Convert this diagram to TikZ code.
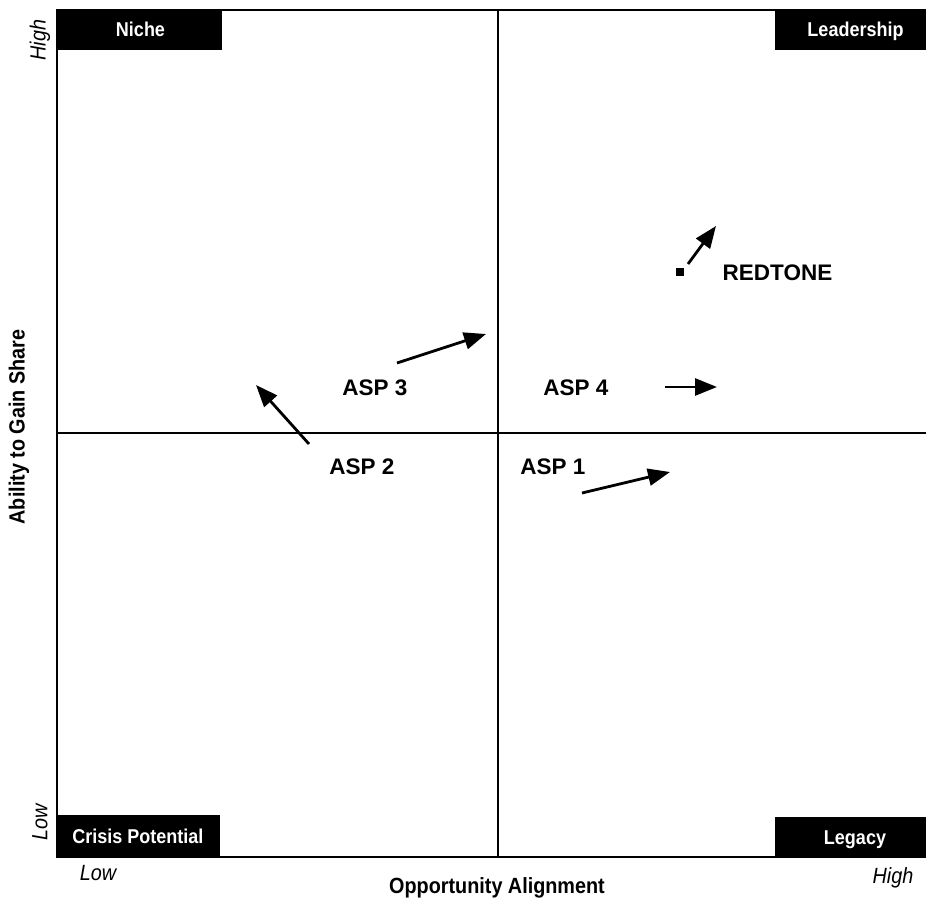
\documentclass[tikz,border=0pt]{standalone}
\usepackage{fontspec}
\setmainfont{Liberation Sans}
\newfontfamily\narrowfont[FakeStretch=0.9]{Liberation Sans}
\usetikzlibrary{arrows.meta}
\tikzset{
  quadbox/.style={fill=black, draw=black, inner sep=0pt, text=white,
    text height=14.5pt, text depth=0pt,
    font=\narrowfont\bfseries\fontsize{20}{22}\selectfont},
  asplabel/.style={font=\bfseries\fontsize{22.5}{25}\selectfont, inner sep=0pt},
  axislabel/.style={font=\narrowfont\bfseries\fontsize{22}{24}\selectfont, inner sep=0pt},
  endlabel/.style={font=\narrowfont\itshape\fontsize{22}{24}\selectfont, inner sep=0pt},
  frameline/.style={line width=1.8pt},
  move/.style={line width=2.8pt, -{Triangle[length=22pt,width=17pt]}},
}
\begin{document}
\begin{tikzpicture}[x=1pt,y=-1pt]
\useasboundingbox (0,0) rectangle (926,901);
% frame and axes
\coordinate (TL) at (57,10);
\coordinate (TR) at (926,10);
\coordinate (BL) at (57,857);
\coordinate (BR) at (926,857);
\coordinate (MT) at (498,10);
\coordinate (MB) at (498,857);
\coordinate (ML) at (57,433);
\coordinate (MR) at (926,433);
\draw[frameline] (TR) -- (TL) -- (BL) -- (BR);
\draw[frameline] (MT) -- (MB);
\draw[frameline] (ML) -- (MR);
% quadrant boxes
\node[quadbox, minimum width=164pt, minimum height=39pt] (niche) at (139,29.5) {\hspace*{3pt}Niche};
\node[quadbox, minimum width=151pt, minimum height=39pt] (lead) at (850.5,29.5) {\hspace*{10pt}Leadership};
\node[quadbox, minimum width=162pt, minimum height=42pt] (crisis) at (138,836) {Crisis Potential};
\node[quadbox, minimum width=151pt, minimum height=40pt] (legacy) at (850.5,837) {\hspace*{9pt}Legacy};
% axis labels
\node[axislabel] (xlab) at (497,888) {Opportunity Alignment};
\node[axislabel, rotate=90] (ylab) at (19,427) {Ability to Gain Share};
\node[endlabel] (xlow) at (98,873) {Low};
\node[endlabel] (xhigh) at (893,878) {High};
\node[endlabel, rotate=90] (ylow) at (40,822) {Low};
\node[endlabel, rotate=90] (yhigh) at (40,40) {High};
% item labels
\node[asplabel] (asp3) at (375,388) {ASP 3};
\node[asplabel] (asp4) at (576,388) {ASP 4};
\node[asplabel] (asp2) at (362,467) {ASP 2};
\node[asplabel] (asp1) at (553,467) {ASP 1};
\node[asplabel] (red) at (777.5,273) {REDTONE};
\node[fill=black, minimum size=8pt, inner sep=0pt] (sq) at (680,272) {};
% movement arrows
\coordinate (a3s) at (397,363); \coordinate (a3e) at (486,334);
\coordinate (a2s) at (309,444); \coordinate (a2e) at (256,385);
\coordinate (a4s) at (665,387); \coordinate (a4e) at (717,387);
\coordinate (a1s) at (582,493); \coordinate (a1e) at (670,472);
\coordinate (rs) at (688,264); \coordinate (re) at (716,226);
\draw[move] (a3s) -- (a3e);
\draw[move] (a2s) -- (a2e);
\draw[move] (a4s) -- (a4e);
\draw[move] (a1s) -- (a1e);
\draw[move] (rs) -- (re);
\end{tikzpicture}
\end{document}
